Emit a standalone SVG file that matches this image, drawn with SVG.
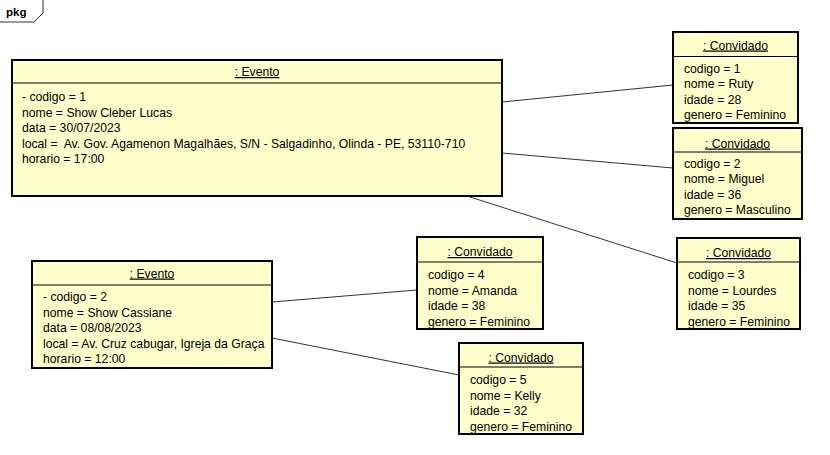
<svg xmlns="http://www.w3.org/2000/svg" width="830" height="455" viewBox="0 0 830 455">
<style>
text{font-family:"Liberation Sans",Arial,sans-serif;font-size:12.2px;fill:#000;white-space:pre}
.t{text-anchor:middle;text-decoration:underline}
.box{fill:#FFFFCC;stroke:#000;stroke-width:2}
.sep{stroke:#000;stroke-width:1}
.c{stroke:#333;stroke-width:1;fill:none}
.pkg{font-weight:bold;font-size:11.5px}
</style>
<rect width="830" height="455" fill="#fff"/>
<g id="frame">
<path d="M0,22 H34 L43,13 V0" fill="none" stroke="#333" stroke-width="1"/>
<text class="pkg" x="6" y="16">pkg</text>
</g>
<g id="connectors">
<line class="c" x1="502" y1="102" x2="673" y2="85"/>
<line class="c" x1="502" y1="153" x2="673" y2="168"/>
<line class="c" x1="470" y1="197" x2="677" y2="263"/>
<line class="c" x1="272" y1="302" x2="417" y2="290"/>
<line class="c" x1="272" y1="338" x2="459" y2="375"/>
</g>
<g id="evento1">
<rect class="box" x="12" y="60" width="490" height="136"/>
<line class="sep" x1="12" y1="83" x2="502" y2="83"/>
<text class="t" x="257" y="76">: Evento</text>
<text x="22" y="101">- codigo = 1</text>
<text x="22" y="116.5">nome = Show Cleber Lucas</text>
<text x="22" y="132">data = 30/07/2023</text>
<text x="22" y="147.5" xml:space="preserve">local =&#160; Av. Gov. Agamenon Magalhães, S/N - Salgadinho, Olinda - PE, 53110-710</text>
<text x="22" y="163">horario = 17:00</text>
</g>
<g id="convidado1">
<rect class="box" x="673" y="32" width="125" height="91"/>
<line class="sep" x1="673" y1="56.5" x2="798" y2="56.5"/>
<text class="t" x="735.5" y="49.5">: Convidado</text>
<text x="684" y="72.5">codigo = 1</text>
<text x="684" y="88">nome = Ruty</text>
<text x="684" y="103.5">idade = 28</text>
<text x="684" y="119">genero = Feminino</text>
</g>
<g id="convidado2">
<rect class="box" x="673" y="128" width="129" height="91"/>
<line class="sep" x1="673" y1="152" x2="802" y2="152"/>
<text class="t" x="737.5" y="147.5">: Convidado</text>
<text x="684" y="167.5">codigo = 2</text>
<text x="684" y="183">nome = Miguel</text>
<text x="684" y="198.5">idade = 36</text>
<text x="684" y="214">genero = Masculino</text>
</g>
<g id="convidado3">
<rect class="box" x="677" y="238" width="123" height="91"/>
<line class="sep" x1="677" y1="262" x2="800" y2="262"/>
<text class="t" x="738.5" y="257">: Convidado</text>
<text x="688" y="279">codigo = 3</text>
<text x="688" y="294.5">nome = Lourdes</text>
<text x="688" y="310">idade = 35</text>
<text x="688" y="325.5">genero = Feminino</text>
</g>
<g id="evento2">
<rect class="box" x="32" y="261" width="240" height="107"/>
<line class="sep" x1="32" y1="285" x2="272" y2="285"/>
<text class="t" x="152" y="277.5">: Evento</text>
<text x="43" y="301">- codigo = 2</text>
<text x="43" y="316.5">nome = Show Cassiane</text>
<text x="43" y="332">data = 08/08/2023</text>
<text x="43" y="347.5">local = Av. Cruz cabugar, Igreja da Graça</text>
<text x="43" y="363">horario = 12:00</text>
</g>
<g id="convidado4">
<rect class="box" x="417" y="237" width="126" height="92"/>
<line class="sep" x1="417" y1="262" x2="543" y2="262"/>
<text class="t" x="480" y="256">: Convidado</text>
<text x="428" y="279">codigo = 4</text>
<text x="428" y="294.5">nome = Amanda</text>
<text x="428" y="310">idade = 38</text>
<text x="428" y="325.5">genero = Feminino</text>
</g>
<g id="convidado5">
<rect class="box" x="459" y="343" width="124" height="91"/>
<line class="sep" x1="459" y1="367" x2="583" y2="367"/>
<text class="t" x="521" y="361.5">: Convidado</text>
<text x="470" y="384">codigo = 5</text>
<text x="470" y="399.5">nome = Kelly</text>
<text x="470" y="415">idade = 32</text>
<text x="470" y="430.5">genero = Feminino</text>
</g>
</svg>
